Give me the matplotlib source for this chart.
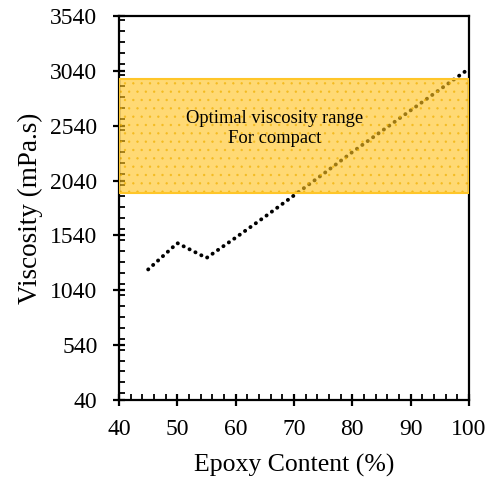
import matplotlib.pyplot as plt
from matplotlib.patches import Rectangle
from matplotlib.ticker import MultipleLocator

plt.rcParams["font.family"] = "Liberation Serif"
plt.rcParams['hatch.linewidth'] = 0.5

# viscosity vs epoxy content
epoxy = [45, 50, 55, 60, 65, 70, 75, 80, 85, 90, 95, 100]
viscosity = [1230, 1470, 1335, 1520, 1710, 1905, 2100, 2300, 2490, 2680, 2870, 3060]

# optimal range for compaction
opt_low = 1930
opt_high = 2970

fig = plt.figure(figsize=(4.92, 4.79), dpi=100)
ax = fig.add_axes([0.2419, 0.1649, 0.7114, 0.8017])

ax.plot(epoxy, viscosity, color='black', linewidth=2.8,
        linestyle=(0, (0.05, 1.65)), dash_capstyle='round', zorder=1)

# translucent band drawn over the curve
ax.add_patch(Rectangle((40, opt_low), 60, opt_high - opt_low, facecolor='#FFC31F',
                       edgecolor='#F0B000', hatch='..', linewidth=0, alpha=0.62, zorder=2))
ax.add_patch(Rectangle((40, opt_low), 60, opt_high - opt_low, facecolor='none',
                       edgecolor='#FFC629', linewidth=1.5, zorder=3))

ax.text(66.7, 2515, 'Optimal viscosity range\nFor compact', ha='center', va='center',
        fontsize=13.3, linespacing=1.2, zorder=4)

ax.set_xlim(40, 100)
ax.set_ylim(40, 3540)
ax.set_xticks(range(40, 101, 10))
ax.set_yticks(range(40, 3541, 500))
ax.xaxis.set_minor_locator(MultipleLocator(2))
ax.yaxis.set_minor_locator(MultipleLocator(100))

for s in ax.spines.values():
    s.set_linewidth(1.6)
ax.tick_params(which='major', direction='inout', length=9, width=1.6, labelsize=17)
ax.tick_params(which='minor', direction='in', length=4, width=1.3)
ax.tick_params(axis='x', which='major', pad=9)
ax.tick_params(axis='y', which='major', pad=11)

ax.set_xlabel('Epoxy Content (%)', fontsize=18.5, labelpad=10)
ax.set_ylabel('Viscosity (mPa.s)', fontsize=19.5, labelpad=5)

fig.savefig('out.png', dpi=100)
